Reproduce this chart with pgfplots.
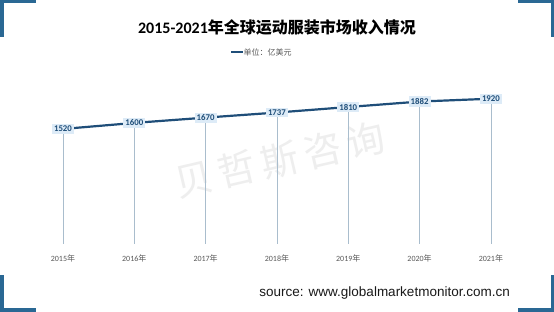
\documentclass[border=0pt]{standalone}
\usepackage{pgfplots}
\pgfplotsset{compat=1.18}
\usepackage{fontspec}
\setmainfont{Carlito}
\newfontfamily\cjk{Noto Sans CJK SC}
\newfontfamily\srcfont{Liberation Sans}
\definecolor{mainblue}{HTML}{1F4E79}
\definecolor{cornerc}{HTML}{2A6894}
\definecolor{dropc}{HTML}{A9BDCD}
\definecolor{labelfill}{HTML}{DDEBF7}
\definecolor{txtgray}{HTML}{595959}
\definecolor{wm}{HTML}{EEEEEE}
\begin{document}
\begin{tikzpicture}[x=1pt,y=1pt]
\fill[white] (0,0) rectangle (554,312);
% corner brackets
\fill[cornerc] (0,308.5) rectangle (36,312);
\fill[cornerc] (0,275) rectangle (3.5,312);
\fill[cornerc] (518,308.5) rectangle (554,312);
\fill[cornerc] (550.5,275) rectangle (554,312);
\fill[cornerc] (0,0) rectangle (36,3.5);
\fill[cornerc] (0,0) rectangle (3.5,37);
\fill[cornerc] (518,0) rectangle (554,3.5);
\fill[cornerc] (550.5,0) rectangle (554,37);
% watermark
\node[rotate=13, text=wm, font=\cjk\fontsize{38}{40}\selectfont] at (280,152) {贝\hspace{6pt}哲\hspace{6pt}斯\hspace{6pt}咨\hspace{6pt}询};
% title
\node[font=\fontsize{16}{18}\selectfont, text=black] at (277,285) {\textbf{2015-2021}{\cjk\bfseries 年全球运动服装市场收入情况}};
% subtitle
\draw[mainblue, line width=1.6pt] (231,260) -- (242.5,260);
\node[anchor=west, inner sep=0pt, font=\cjk\fontsize{8}{9}\selectfont, text=txtgray] at (243.5,260) {单位：亿美元};
% source
\node[anchor=east, inner sep=0pt, font=\srcfont\fontsize{13.5}{15}\selectfont, text=black!90] at (510,19) {source: www.globalmarketmonitor.com.cn};
\begin{axis}[
  at={(27.3pt,68pt)}, anchor=south west,
  scale only axis, width=499.3pt, height=189.2pt,
  xmin=-0.5, xmax=6.5, ymin=0, ymax=2500,
  axis line style={draw=none},
  major tick length=0pt,
  ytick=\empty,
  xtick={0,1,2,3,4,5,6},
  xticklabels={2015{\cjk 年},2016{\cjk 年},2017{\cjk 年},2018{\cjk 年},2019{\cjk 年},2020{\cjk 年},2021{\cjk 年}},
  xticklabel style={font=\fontsize{8}{9}\selectfont, text=txtgray, yshift=-7pt},
  clip=false,
]
\addplot[ycomb, dropc, line width=0.8pt, no marks] coordinates {(0,1520) (1,1600) (2,1670) (3,1737) (4,1810) (5,1882) (6,1920)};
\addplot[mainblue, line width=2.2pt, no marks,
  point meta=explicit symbolic,
  nodes near coords,
  every node near coord/.style={anchor=center, fill=labelfill, text=mainblue, inner sep=2pt, font=\bfseries\fontsize{8.8}{10}\selectfont}]
  coordinates {(0,1520) [1520] (1,1600) [1600] (2,1670) [1670] (3,1737) [1737] (4,1810) [1810] (5,1882) [1882] (6,1920) [1920]};
\end{axis}
\pgfresetboundingbox
\path[use as bounding box] (0,0) rectangle (554,312);
\end{tikzpicture}
\end{document}
